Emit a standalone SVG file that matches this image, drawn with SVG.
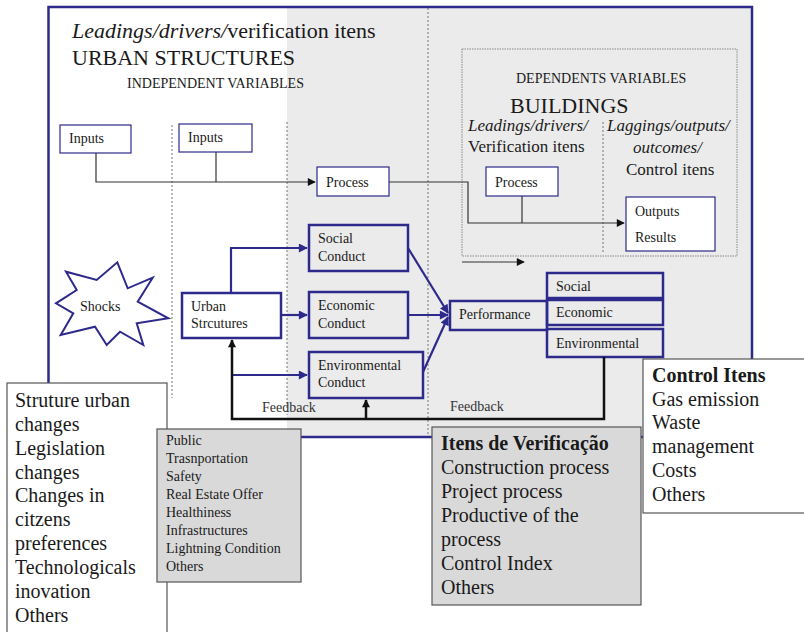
<svg xmlns="http://www.w3.org/2000/svg" width="804" height="632" viewBox="0 0 804 632">
  <defs>
    <marker id="arrowNavyL" viewBox="0 0 10 10" refX="9" refY="5" markerWidth="10" markerHeight="9" markerUnits="userSpaceOnUse" orient="auto">
      <path d="M0,0 L10,5 L0,10 z" fill="#2e2a8c"/>
    </marker>
    <marker id="arrowBlack" viewBox="0 0 10 10" refX="9" refY="5" markerWidth="10" markerHeight="8" markerUnits="userSpaceOnUse" orient="auto">
      <path d="M0,0 L10,5 L0,10 z" fill="#111"/>
    </marker>
  </defs>
  <style>
    text { fill: #1a1a1a; }
    .t14 { font-size: 14px; }
    .t17 { font-size: 17px; }
    .t20 { font-size: 20px; }
    .t22 { font-size: 22px; }
    .it { font-style: italic; }
    .b { font-weight: bold; }
    .thin { fill: #ffffff; stroke: #2e2a8c; stroke-width: 1.2; }
    .thick { fill: none; stroke: #2e2a8c; stroke-width: 2.5; }
    .dots { stroke: #777; stroke-width: 1; stroke-dasharray: 2 2; fill: none; }
    .grayline { fill: none; stroke: #333; stroke-width: 1.2; }
    .navyline { fill: none; stroke: #2e2a8c; stroke-width: 2.2; }
    .blackline { fill: none; stroke: #111; stroke-width: 2.5; }
    .note { stroke: #555; stroke-width: 1.2; }
  </style>

  <rect x="0" y="0" width="804" height="632" fill="#ffffff"/>

  <!-- shaded half of the frame -->
  <rect x="287" y="7" width="465" height="430" fill="#ebebeb"/>

  <!-- column separators -->
  <line class="dots" x1="172" y1="125" x2="172" y2="398"/>
  <line class="dots" x1="287" y1="122" x2="287" y2="415"/>
  <line class="dots" x1="428" y1="8" x2="428" y2="436"/>

  <!-- outer frame -->
  <rect x="48.5" y="7" width="703.5" height="430" fill="none" stroke="#2e2a8c" stroke-width="2.5"/>

  <!-- headings -->
  <g id="heading-urban">
    <text font-family="Liberation Serif, serif" class="t22" x="72" y="38"><tspan class="it">Leadings/drivers/</tspan>verification  itens</text>
    <text font-family="Liberation Serif, serif" class="t22" x="72" y="65">URBAN STRUCTURES</text>
    <text font-family="Liberation Serif, serif" class="t14" x="127" y="88">INDEPENDENT  VARIABLES</text>
  </g>

  <!-- dependent variables panel -->
  <g id="buildings-panel">
    <rect x="462" y="49" width="275" height="207" fill="none" stroke="#888" stroke-width="1" stroke-dasharray="1.5 1"/>
    <line class="dots" x1="603" y1="122" x2="603" y2="254"/>
    <text font-family="Liberation Serif, serif" class="t14" x="516" y="83">DEPENDENTS  VARIABLES</text>
    <text font-family="Liberation Serif, serif" class="t22" x="510" y="113">BUILDINGS</text>
    <text font-family="Liberation Serif, serif" class="t17 it" x="468" y="131">Leadings/drivers/</text>
    <text font-family="Liberation Serif, serif" class="t17" x="468" y="152">Verification  itens</text>
    <text font-family="Liberation Serif, serif" class="t17 it" x="607" y="131">Laggings/outputs/</text>
    <text font-family="Liberation Serif, serif" class="t17 it" x="633" y="153">outcomes/</text>
    <text font-family="Liberation Serif, serif" class="t17" x="626" y="175">Control itens</text>
  </g>

  <!-- nodes -->
  <g id="inputs-1">
    <rect class="thin" x="60" y="125" width="71" height="28"/>
    <text font-family="Liberation Serif, serif" class="t14" x="69" y="143">Inputs</text>
  </g>
  <g id="inputs-2">
    <rect class="thin" x="179" y="124" width="73" height="28"/>
    <text font-family="Liberation Serif, serif" class="t14" x="188" y="142">Inputs</text>
  </g>
  <g id="process-urban">
    <rect class="thin" x="317" y="167" width="72" height="29"/>
    <text font-family="Liberation Serif, serif" class="t14" x="326" y="187">Process</text>
  </g>
  <g id="process-buildings">
    <rect class="thin" x="486" y="167" width="72" height="29"/>
    <text font-family="Liberation Serif, serif" class="t14" x="495" y="187">Process</text>
  </g>
  <g id="outputs">
    <rect class="thin" x="626" y="197" width="89" height="54"/>
    <text font-family="Liberation Serif, serif" class="t14" x="635" y="216">Outputs</text>
    <text font-family="Liberation Serif, serif" class="t14" x="635" y="242">Results</text>
  </g>

  <g id="shocks">
    <polygon points="117.3,262.3 127.7,288.3 152.7,277.7 137.7,301.7 168.3,318.3 136.7,323.3 143.3,345 120,331.7 106.7,345 95,326.7 60.7,335 73.3,313.3 56,303.3 76.7,290 66,271.7 96.7,280" fill="#ffffff" stroke="#2e2a8c" stroke-width="2"/>
    <text font-family="Liberation Serif, serif" class="t14" x="80" y="311">Shocks</text>
  </g>
  <g id="urban-structures">
    <rect class="thick" x="182" y="293" width="99" height="45" fill="#ffffff"/>
    <text font-family="Liberation Serif, serif" class="t14" x="191" y="311">Urban</text>
    <text font-family="Liberation Serif, serif" class="t14" x="191" y="328">Strcutures</text>
  </g>
  <g id="social-conduct">
    <rect class="thick" x="309" y="225" width="99" height="46"/>
    <text font-family="Liberation Serif, serif" class="t14" x="318" y="243">Social</text>
    <text font-family="Liberation Serif, serif" class="t14" x="318" y="261">Conduct</text>
  </g>
  <g id="economic-conduct">
    <rect class="thick" x="309" y="292" width="99" height="46"/>
    <text font-family="Liberation Serif, serif" class="t14" x="318" y="310">Economic</text>
    <text font-family="Liberation Serif, serif" class="t14" x="318" y="328">Conduct</text>
  </g>
  <g id="environmental-conduct">
    <rect class="thick" x="309" y="352" width="114" height="46"/>
    <text font-family="Liberation Serif, serif" class="t14" x="318" y="370">Environmental</text>
    <text font-family="Liberation Serif, serif" class="t14" x="318" y="387">Conduct</text>
  </g>
  <g id="performance">
    <rect class="thick" x="450" y="301" width="97" height="29"/>
    <text font-family="Liberation Serif, serif" class="t14" x="459" y="319">Performance</text>
  </g>
  <g id="perf-social">
    <rect class="thick" x="547" y="273" width="116" height="25"/>
    <text font-family="Liberation Serif, serif" class="t14" x="556" y="291">Social</text>
  </g>
  <g id="perf-economic">
    <rect class="thick" x="547" y="300" width="116" height="25"/>
    <text font-family="Liberation Serif, serif" class="t14" x="556" y="317">Economic</text>
  </g>
  <g id="perf-environmental">
    <rect class="thick" x="547" y="329" width="116" height="28"/>
    <text font-family="Liberation Serif, serif" class="t14" x="556" y="348">Environmental</text>
  </g>

  <!-- connectors -->
  <g id="connectors">
    <path class="grayline" d="M96,153 V182 H315" marker-end="url(#arrowBlack)"/>
    <path class="grayline" d="M216,152 V182"/>
    <path class="grayline" d="M389,182 H468 V223 H624" marker-end="url(#arrowBlack)"/>
    <path class="grayline" d="M522,196 V223"/>
    <path class="grayline" d="M462,262 H524" marker-end="url(#arrowBlack)"/>

    <path class="navyline" d="M231,293 V248 H307" marker-end="url(#arrowNavyL)"/>
    <path class="navyline" d="M281,315 H307" marker-end="url(#arrowNavyL)"/>
    <path class="navyline" d="M232,375 H307" marker-end="url(#arrowNavyL)"/>
    <path class="navyline" d="M408,248 L448,313" marker-end="url(#arrowNavyL)"/>
    <path class="navyline" d="M408,315 H448" marker-end="url(#arrowNavyL)"/>
    <path class="navyline" d="M423,372 L448,317" marker-end="url(#arrowNavyL)"/>

    <path class="blackline" d="M604,357 V419 H232 V340" marker-end="url(#arrowBlack)"/>
    <path class="blackline" d="M366,419 V400" marker-end="url(#arrowBlack)"/>
    <text font-family="Liberation Serif, serif" class="t14" x="262" y="412" style="fill:#333">Feedback</text>
    <text font-family="Liberation Serif, serif" class="t14" x="450" y="411" style="fill:#333">Feedback</text>
  </g>

  <!-- side notes -->
  <g id="urban-changes">
    <rect class="note" x="7" y="383" width="160" height="260" fill="#ffffff"/>
    <text font-family="Liberation Serif, serif" class="t20" x="15" y="407">Struture urban</text>
    <text font-family="Liberation Serif, serif" class="t20" x="15" y="431">changes</text>
    <text font-family="Liberation Serif, serif" class="t20" x="15" y="455">Legislation</text>
    <text font-family="Liberation Serif, serif" class="t20" x="15" y="479">changes</text>
    <text font-family="Liberation Serif, serif" class="t20" x="15" y="502">Changes in</text>
    <text font-family="Liberation Serif, serif" class="t20" x="15" y="526">citzens</text>
    <text font-family="Liberation Serif, serif" class="t20" x="15" y="550">preferences</text>
    <text font-family="Liberation Serif, serif" class="t20" x="15" y="574">Technologicals</text>
    <text font-family="Liberation Serif, serif" class="t20" x="15" y="598">inovation</text>
    <text font-family="Liberation Serif, serif" class="t20" x="15" y="622">Others</text>
  </g>
  <g id="urban-items">
    <rect class="note" x="157" y="429" width="144" height="153" fill="#d9d9d9"/>
    <text font-family="Liberation Serif, serif" class="t14" x="166" y="445">Public</text>
    <text font-family="Liberation Serif, serif" class="t14" x="166" y="463">Trasnportation</text>
    <text font-family="Liberation Serif, serif" class="t14" x="166" y="481">Safety</text>
    <text font-family="Liberation Serif, serif" class="t14" x="166" y="499">Real Estate Offer</text>
    <text font-family="Liberation Serif, serif" class="t14" x="166" y="517">Healthiness</text>
    <text font-family="Liberation Serif, serif" class="t14" x="166" y="535">Infrastructures</text>
    <text font-family="Liberation Serif, serif" class="t14" x="166" y="553">Lightning  Condition</text>
    <text font-family="Liberation Serif, serif" class="t14" x="166" y="571">Others</text>
  </g>
  <g id="verification-items">
    <rect class="note" x="432" y="427" width="209" height="178" fill="#d9d9d9"/>
    <text font-family="Liberation Serif, serif" class="t20 b" x="441" y="450">Itens de Verificação</text>
    <text font-family="Liberation Serif, serif" class="t20" x="441" y="474">Construction process</text>
    <text font-family="Liberation Serif, serif" class="t20" x="441" y="498">Project process</text>
    <text font-family="Liberation Serif, serif" class="t20" x="441" y="522">Productive of the</text>
    <text font-family="Liberation Serif, serif" class="t20" x="441" y="546">process</text>
    <text font-family="Liberation Serif, serif" class="t20" x="441" y="570">Control Index</text>
    <text font-family="Liberation Serif, serif" class="t20" x="441" y="594">Others</text>
  </g>
  <g id="control-items">
    <rect class="note" x="643" y="359" width="165" height="154" fill="#ffffff"/>
    <text font-family="Liberation Serif, serif" class="t20 b" x="652" y="382">Control Itens</text>
    <text font-family="Liberation Serif, serif" class="t20" x="652" y="406">Gas emission</text>
    <text font-family="Liberation Serif, serif" class="t20" x="652" y="429">Waste</text>
    <text font-family="Liberation Serif, serif" class="t20" x="652" y="453">management</text>
    <text font-family="Liberation Serif, serif" class="t20" x="652" y="477">Costs</text>
    <text font-family="Liberation Serif, serif" class="t20" x="652" y="501">Others</text>
  </g>
</svg>
